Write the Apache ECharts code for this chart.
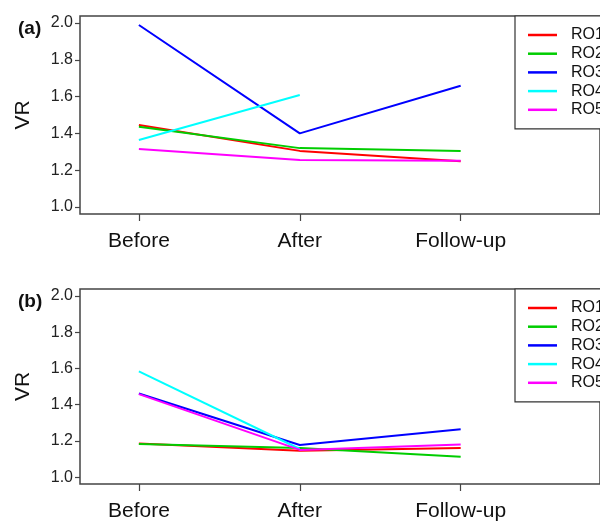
<!DOCTYPE html>
<html>
<head>
<meta charset="utf-8">
<script src="https://cdn.jsdelivr.net/npm/echarts@6/dist/echarts.min.js"></script>
<style>
html,body{margin:0;padding:0;background:#fff;}
#c{width:600px;height:522px;}
</style>
</head>
<body>
<div id="c"></div>
<script>
var categories = ['Before', 'After', 'Follow-up'];
var seriesNames = ['RO1', 'RO2', 'RO3', 'RO4', 'RO5'];
var yTicks = [1.0, 1.2, 1.4, 1.6, 1.8, 2.0];
// Panel (a)
var ro1A = [1.446, 1.305, 1.248];
var ro2A = [1.436, 1.320, 1.304];
var ro3A = [1.989, 1.400, 1.659];
var ro4A = [1.364, 1.609, null];
var ro5A = [1.315, 1.255, 1.252];
// Panel (b)
var ro1B = [1.186, 1.146, 1.160];
var ro2B = [1.183, 1.160, 1.113];
var ro3B = [1.461, 1.177, 1.264];
var ro4B = [1.583, 1.155, null];
var ro5B = [1.458, 1.150, 1.180];

var colors = ['#ff0000', '#00cd00', '#0000ff', '#00ffff', '#ff00ff'];
var FONT = '"Liberation Sans", Arial, sans-serif';

function pts(arr) {
  return arr.map(function (v, i) { return [i + 1, v]; });
}
var panelA = [ro1A, ro2A, ro3A, ro4A, ro5A];
var panelB = [ro1B, ro2B, ro3B, ro4B, ro5B];

var series = [];
[panelA, panelB].forEach(function (panel, p) {
  panel.forEach(function (arr, k) {
    series.push({
      name: seriesNames[k],
      type: 'line',
      xAxisIndex: p,
      yAxisIndex: p,
      symbol: 'none',
      silent: true,
      connectNulls: false,
      data: pts(arr),
      lineStyle: { color: colors[k], width: 2 },
      itemStyle: { color: colors[k] }
    });
  });
});

function xAxis(gi) {
  return {
    type: 'value', gridIndex: gi, min: 0.634, max: 3.866,
    splitLine: { show: false },
    axisLine: { show: false },
    axisTick: { show: true, length: 7, customValues: [1, 2, 3], lineStyle: { color: '#444', width: 1.2 } },
    axisLabel: {
      customValues: [1, 2, 3], margin: 17, fontSize: 21, color: '#111', fontFamily: FONT,
      formatter: function (v) { return categories[Math.round(v) - 1]; }
    }
  };
}
function yAxis(gi) {
  return {
    type: 'value', gridIndex: gi, min: 0.962, max: 2.038,
    name: 'VR', nameLocation: 'middle', nameGap: 46,
    nameTextStyle: { fontSize: 21, color: '#111', fontFamily: FONT },
    splitLine: { show: false },
    axisLine: { show: false },
    axisTick: { show: true, length: 5, customValues: yTicks, lineStyle: { color: '#444', width: 1.2 } },
    axisLabel: {
      customValues: yTicks, margin: 7, fontSize: 16, color: '#222', fontFamily: FONT,
      formatter: function (v) { return v.toFixed(1); }
    }
  };
}
function legend(top) {
  return {
    data: seriesNames, orient: 'vertical', left: 515, top: top,
    icon: 'rect',
    itemWidth: 29, itemHeight: 2.5, itemGap: 2.7,
    padding: [11, 50, 11, 13],
    borderColor: '#333', borderWidth: 1.2, backgroundColor: '#fff',
    selectedMode: false,
    textStyle: { fontSize: 16, color: '#111', fontFamily: FONT, lineHeight: 14, padding: [0, 0, 0, 9] }
  };
}

var chart = echarts.init(document.getElementById('c'), null, { renderer: 'canvas' });
chart.setOption({
  animation: false,
  backgroundColor: '#fff',
  title: [
    { text: '(a)', left: 13, top: 14, textStyle: { fontSize: 19, fontWeight: 'bold', color: '#111', fontFamily: FONT } },
    { text: '(b)', left: 13, top: 287, textStyle: { fontSize: 19, fontWeight: 'bold', color: '#111', fontFamily: FONT } }
  ],
  grid: [
    { left: 80, right: -10, top: 16, height: 198, show: true, borderColor: '#444', borderWidth: 1.5, backgroundColor: 'transparent' },
    { left: 80, right: -10, top: 289, height: 201, show: true, borderColor: '#444', borderWidth: 1.5, backgroundColor: 'transparent' }
  ],
  xAxis: [xAxis(0), xAxis(1)],
  yAxis: [yAxis(0), yAxis(1)],
  legend: [legend(16), legend(289)],
  series: series
});
</script>
</body>
</html>
